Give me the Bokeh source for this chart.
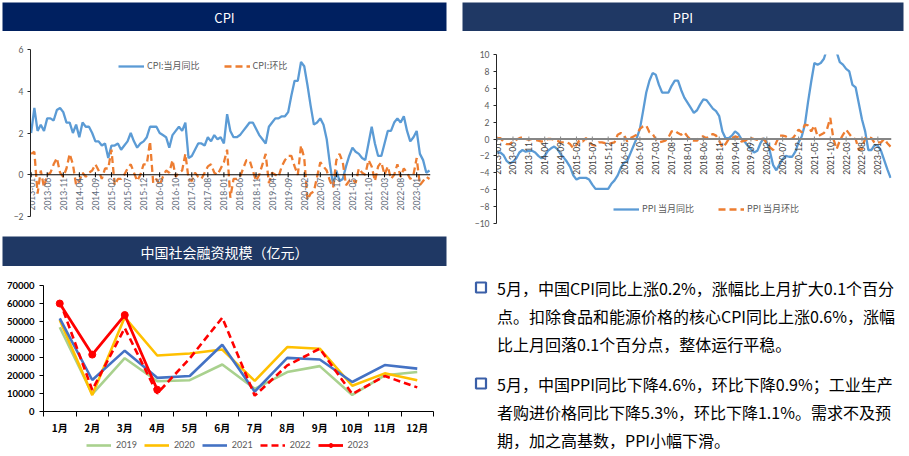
import math
import pandas as pd
from bokeh.plotting import figure
from bokeh.layouts import row, column
from bokeh.models import Range1d, FixedTicker, Legend, LegendItem, Label, NumeralTickFormatter, Span
from bokeh.core.properties import value
from bokeh.embed import file_html
from bokeh.resources import INLINE

# ---------------- data ----------------
months = pd.date_range("2013-01-01", periods=125, freq="MS").strftime("%Y-%m").tolist()
tick_step = 5

cpi_yoy = [2.0, 3.2, 2.1, 2.4, 2.1, 2.7, 2.7, 2.6, 3.1, 3.2, 3.0, 2.5,
           2.5, 2.0, 2.4, 1.8, 2.5, 2.3, 2.3, 2.0, 1.6, 1.6, 1.4, 1.5,
           0.8, 1.4, 1.4, 1.5, 1.2, 1.4, 1.6, 2.0, 1.6, 1.3, 1.5, 1.6,
           1.8, 2.3, 2.3, 2.3, 2.0, 1.9, 1.8, 1.3, 1.9, 2.1, 2.3, 2.1,
           2.5, 0.8, 0.9, 1.2, 1.5, 1.5, 1.4, 1.8, 1.6, 1.9, 1.7, 1.8,
           1.5, 2.9, 2.1, 1.8, 1.8, 1.9, 2.1, 2.3, 2.5, 2.5, 2.2, 1.9,
           1.7, 1.5, 2.3, 2.5, 2.7, 2.7, 2.8, 2.8, 3.0, 3.8, 4.5, 4.5,
           5.4, 5.2, 4.3, 3.3, 2.4, 2.5, 2.7, 2.4, 1.7, 0.5, -0.5, 0.2,
           -0.3, -0.2, 0.4, 0.9, 1.3, 1.1, 1.0, 0.8, 0.7, 1.5, 2.3, 1.5,
           0.9, 0.9, 1.5, 2.1, 2.1, 2.5, 2.7, 2.5, 2.8, 2.1, 1.6, 1.8,
           2.1, 1.0, 0.7, 0.1, 0.2]

cpi_mom = [1.0, 1.1, -0.9, 0.2, -0.6, 0.0, 0.1, 0.5, 0.8, 0.1, -0.1, 0.3,
           1.0, 0.5, -0.5, -0.3, 0.1, -0.1, 0.1, 0.2, 0.5, 0.2, -0.2, 0.3,
           0.3, 1.2, -0.5, -0.2, -0.2, 0.0, 0.3, 0.5, 0.1, -0.3, 0.0, 0.5,
           0.5, 1.6, -0.4, -0.2, -0.5, -0.1, 0.2, 0.1, 0.7, -0.1, 0.1, 0.2,
           1.0, -0.2, -0.3, 0.1, -0.1, -0.2, 0.1, 0.4, 0.5, 0.1, 0.0, 0.3,
           0.6, 1.2, -1.1, -0.2, -0.2, -0.1, 0.3, 0.7, 0.7, 0.2, -0.3, 0.0,
           0.5, 1.0, -0.4, 0.1, 0.0, -0.1, 0.4, 0.7, 0.9, 0.9, 0.4, 0.0,
           1.4, 0.8, -1.2, -0.9, -0.8, -0.1, 0.6, 0.4, 0.2, -0.3, -0.6, 0.7,
           1.0, 0.6, -0.5, -0.3, -0.2, -0.4, 0.3, 0.1, 0.0, 0.7, 0.4, -0.3,
           0.4, 0.6, 0.0, 0.4, -0.2, 0.0, 0.5, -0.1, 0.3, 0.1, -0.2, 0.0,
           0.8, -0.5, -0.3, -0.1, -0.2]

ppi_yoy = [-1.6, -1.6, -1.9, -2.6, -2.9, -2.7, -2.3, -1.6, -1.3, -1.5, -1.4, -1.4,
           -1.6, -2.0, -2.3, -2.0, -1.4, -1.1, -0.9, -1.2, -1.8, -2.2, -2.7, -3.3,
           -4.3, -4.8, -4.6, -4.6, -4.6, -4.8, -5.4, -5.9, -5.9, -5.9, -5.9, -5.9,
           -5.3, -4.9, -4.3, -3.4, -2.8, -2.6, -1.7, -0.8, 0.1, 1.2, 3.3, 5.5,
           6.9, 7.8, 7.6, 6.4, 5.5, 5.5, 5.5, 6.3, 6.9, 6.9, 5.8, 4.9,
           4.3, 3.7, 3.1, 3.4, 4.1, 4.7, 4.6, 4.1, 3.6, 3.3, 2.7, 0.9,
           0.1, 0.1, 0.4, 0.9, 0.6, 0.0, -0.3, -0.8, -1.2, -1.6, -1.4, -0.5,
           0.1, -0.4, -1.5, -3.1, -3.7, -3.0, -2.4, -2.0, -2.1, -2.1, -1.5, -0.4,
           0.3, 1.7, 4.4, 6.8, 9.0, 8.8, 9.0, 9.5, 10.7, 13.5, 12.9, 10.3,
           9.1, 8.8, 8.3, 8.0, 6.4, 6.1, 4.2, 2.3, 0.9, -1.3, -1.3, -0.7,
           -0.8, -1.4, -2.5, -3.6, -4.6]

ppi_mom = [0.1, 0.1, -0.3, -0.6, -0.6, -0.3, -0.1, 0.1, 0.2, 0.0, -0.1, 0.0,
           -0.1, -0.2, -0.3, -0.2, 0.0, 0.0, -0.1, -0.2, -0.4, -0.4, -0.4, -0.6,
           -1.1, -0.7, -0.1, -0.3, 0.1, -0.3, -0.7, -0.8, -0.4, -0.4, -0.5, -0.6,
           -0.5, -0.4, 0.5, 0.7, 0.5, -0.3, 0.1, 0.3, 0.5, 1.2, 1.5, 1.6,
           0.8, 0.6, 0.0, -0.4, -0.3, -0.2, 0.2, 0.9, 1.0, 0.7, 0.5, 0.8,
           0.3, -0.1, -0.2, -0.2, 0.3, 0.3, 0.1, 0.4, 0.6, 0.4, -0.2, -1.0,
           -0.6, 0.0, 0.1, 0.3, 0.2, -0.3, -0.2, -0.1, 0.1, 0.0, -0.1, 0.0,
           0.0, -0.5, -1.0, -1.3, -0.4, 0.4, 0.4, 0.3, 0.1, 0.0, 0.5, 1.1,
           0.8, 1.7, 1.6, 0.9, 1.6, 0.3, 0.5, 0.7, 1.2, 2.5, 0.0, -1.2,
           -0.2, 0.5, 1.1, 0.6, 0.1, 0.0, -1.3, -1.2, 0.1, 0.2, 0.1, -0.5,
           -0.4, -0.4, 0.0, -0.5, -0.9]

sf_months = ["1月", "2月", "3月", "4月", "5月", "6月", "7月", "8月", "9月", "10月", "11月", "12月"]
sf2019 = [46800, 9700, 29600, 16800, 17400, 26100, 12600, 21900, 25200, 9200, 20100, 21900]
sf2020 = [50800, 9100, 52300, 31100, 32200, 34400, 17000, 35800, 34900, 14300, 21200, 17400]
sf2021 = [51700, 17500, 33800, 18700, 19700, 37100, 11000, 29800, 28900, 16400, 25800, 23800]
sf2022 = [61400, 12000, 46300, 10000, 29500, 52100, 8800, 25600, 34900, 9700, 19700, 13400]
sf2023 = [60000, 31600, 53600, 12100]
sf_years = ["2019", "2020", "2021", "2022", "2023"]

para1 = ["5月，中国CPI同比上涨0.2%，涨幅比上月扩大0.1个百分",
         "点。扣除食品和能源价格的核心CPI同比上涨0.6%，涨幅",
         "比上月回落0.1个百分点，整体运行平稳。"]
para2 = ["5月，中国PPI同比下降4.6%，环比下降0.9%；工业生产",
         "者购进价格同比下降5.3%，环比下降1.1%。需求不及预",
         "期，加之高基数，PPI小幅下滑。"]

# ---------------- styling ----------------
BLUE = "#5B9BD5"
ORANGE = "#ED7D31"
CJK = "Noto Sans CJK SC"
NUM = "Lato"
SF_STYLE = [dict(line_color="#A9D18E", line_width=2.6),
            dict(line_color="#FFC000", line_width=2.6),
            dict(line_color="#4472C4", line_width=2.6),
            dict(line_color="#FF0000", line_width=2.6, line_dash="7 4"),
            dict(line_color="#FF0000", line_width=2.8)]
SF_MARK = dict(size=7, marker="circle", fill_color="#FF0000", line_color="#FF0000")

idx = list(range(len(months)))
tick_idx = idx[::tick_step]
tick_lab = months[::tick_step]


def base_fig(**kw):
    p = figure(toolbar_location=None, output_backend="svg", min_border=0, **kw)
    p.frame_align = False
    p.grid.visible = False
    p.outline_line_color = None
    p.background_fill_color = "white"
    p.border_fill_color = "white"
    return p


def title_bar(text, w, h, left, right, top, color, size):
    p = base_fig(width=w, height=h, x_range=(0, 1), y_range=(0, 1),
                 x_axis_location=None, y_axis_location=None,
                 min_border_left=left, min_border_right=right,
                 min_border_top=top, min_border_bottom=0)
    p.background_fill_color = color
    p.add_layout(Label(x=0.5, y=0.5, text=text, text_align="center",
                       text_baseline="middle", text_color="white",
                       text_font_size=size, text_font=CJK))
    return p


def month_chart(w, h, left, right, top, bottom, y0, y1, yticks, yoy, mom,
                axis_color, axis_width, label_color, names, leg_loc, leg_spacing):
    p = base_fig(width=w, height=h, x_range=Range1d(-0.2, 124.3), y_range=Range1d(y0, y1),
                 x_axis_location=None,
                 min_border_left=left, min_border_right=right,
                 min_border_top=top, min_border_bottom=bottom)
    ya = p.yaxis[0]
    ya.ticker = FixedTicker(ticks=yticks)
    ya.major_label_text_font_size = "8.5px"
    ya.major_label_text_font = NUM
    ya.major_label_text_color = "#595959"
    ya.major_tick_out = 3
    ya.major_tick_in = 0
    ya.minor_tick_line_color = None
    ya.major_label_standoff = 4
    ya.axis_line_color = "#262626"
    ya.major_tick_line_color = "#262626"

    r1 = p.line(idx, yoy, line_color=BLUE, line_width=2.3)
    r2 = p.line(idx, mom, line_color=ORANGE, line_width=2.3, line_dash="7 4")
    # category axis drawn on the zero line
    p.add_layout(Span(location=0, dimension="width", line_color=axis_color,
                      line_width=axis_width))
    p.scatter(x=tick_idx, y=[0] * len(tick_idx), marker="dash", angle=math.pi / 2,
              size=5, line_color=axis_color, line_width=1)
    p.text(x=tick_idx, y=[0] * len(tick_idx), text=tick_lab, angle=math.pi / 2,
           text_align="right", text_baseline="middle", y_offset=3,
           text_font_size="8.5px", text_font=value(NUM), text_color=label_color)
    leg = Legend(items=[LegendItem(label=names[0], renderers=[r1]),
                        LegendItem(label=names[1], renderers=[r2])],
                 location=leg_loc, orientation="horizontal",
                 background_fill_alpha=0, border_line_color=None,
                 padding=0, margin=0, spacing=leg_spacing,
                 glyph_width=26, glyph_height=10, label_standoff=3,
                 label_height=10, label_text_font_size="9px",
                 label_text_font=CJK, label_text_color="#595959")
    p.add_layout(leg)
    return p


cpi_title = title_bar("CPI", 450, 31, 2, 4, 2, "#002060", "13px")
cpi = month_chart(450, 199, 30, 20, 18, 14, -2, 6, [-2, 0, 2, 4, 6], cpi_yoy, cpi_mom,
                  "#000000", 1, "#5f6b7a", ["CPI:当月同比", "CPI:环比"], (88, 144), 24)

ppi_title = title_bar("PPI", 459, 31, 12, 6, 2, "#1F3864", "13px")
ppi = month_chart(459, 199, 46, 18, 23, 7, -10, 10, list(range(-10, 11, 2)), ppi_yoy, ppi_mom,
                  "#868686", 2, "#404040", ["PPI 当月同比", "PPI 当月环比"], (117, 8), 24)

# ---------------- social financing ----------------
sf_title = title_bar("中国社会融资规模（亿元）", 450, 36, 2, 4, 6, "#1F3864", "14px")
sf = base_fig(width=450, height=171, x_range=Range1d(0.5, 12.5), y_range=Range1d(0, 70000),
              min_border_left=43, min_border_right=17,
              min_border_top=19, min_border_bottom=24)
xs = list(range(1, 13))
sxa = sf.xaxis[0]
sxa.ticker = FixedTicker(ticks=xs, minor_ticks=[x - 0.5 for x in xs] + [12.5])
sxa.major_label_overrides = {x: m for x, m in zip(xs, sf_months)}
sxa.major_tick_out = 0
sxa.major_tick_in = 0
sxa.minor_tick_out = 5
sxa.minor_tick_in = 0
sxa.minor_tick_line_color = "#000000"
sxa.axis_line_color = "#000000"
sxa.major_label_standoff = 3
sxa.major_label_text_font_size = "10px"
sxa.major_label_text_font_style = "bold"
sxa.major_label_text_font = CJK
sxa.major_label_text_color = "#000000"
sya = sf.yaxis[0]
sya.ticker = FixedTicker(ticks=list(range(0, 70001, 10000)))
sya.formatter = NumeralTickFormatter(format="0")
sya.major_tick_out = 4
sya.major_tick_in = 0
sya.minor_tick_line_color = None
sya.major_label_standoff = 5
sya.major_label_text_font_size = "9.5px"
sya.major_label_text_font_style = "bold"
sya.major_label_text_font = NUM
sya.major_label_text_color = "#000000"
sya.axis_line_color = "#000000"

sf_series = [sf2019, sf2020, sf2021, sf2022, sf2023]
for ser, st in zip(sf_series, SF_STYLE):
    sf.line(xs[:len(ser)], ser, **st)
sf.scatter(xs[:len(sf2023)], sf2023, **SF_MARK)

# legend strip under the social financing chart (its series lie outside this strip's ranges)
lf = base_fig(width=450, height=19, x_range=Range1d(100, 101), y_range=Range1d(0, 1),
              x_axis_location=None, y_axis_location=None)
items = []
for name, ser, st in zip(sf_years, sf_series, SF_STYLE):
    rs = [lf.line(xs[:len(ser)], ser, **st)]
    if name == "2023":
        rs.append(lf.scatter(xs[:len(ser)], ser, **SF_MARK))
    items.append(LegendItem(label=name, renderers=rs))
lf.add_layout(Legend(items=items, location=(86, 6), orientation="horizontal",
                     background_fill_alpha=0, border_line_color=None,
                     padding=0, margin=0, spacing=7, glyph_width=25, glyph_height=10,
                     label_standoff=5, label_height=10, label_text_font_size="9px",
                     label_text_font=NUM, label_text_color="#595959"))

# ---------------- text panel ----------------
tp = base_fig(width=459, height=226, x_range=Range1d(0, 459), y_range=Range1d(226, 0),
              x_axis_location=None, y_axis_location=None)
line_y1 = [57, 85, 113]
line_y2 = [153, 181, 209]
tp.text(x=[46.5] * 3, y=line_y1, text=para1, text_baseline="middle", text_align="left",
        text_font_size="16px", text_font=value(CJK), text_color="#000000")
tp.text(x=[46.5] * 3, y=line_y2, text=para2, text_baseline="middle", text_align="left",
        text_font_size="16px", text_font=value(CJK), text_color="#000000")
tp.scatter(x=[30.5, 30.5], y=[line_y1[0], line_y2[0]], marker="square", size=10,
           fill_color="white", line_color="#3A5FA8", line_width=2.2)

layout = row(column(cpi_title, cpi, sf_title, sf, lf), column(ppi_title, ppi, tp))

open("out.html", "w").write(file_html(layout, INLINE))
